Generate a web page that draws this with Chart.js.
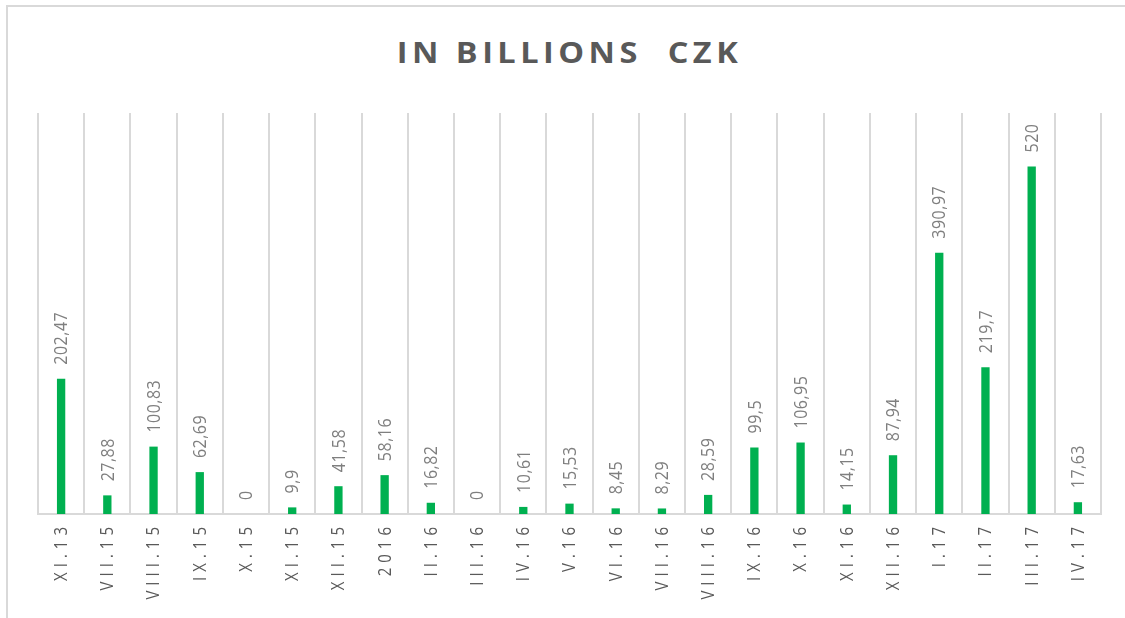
<!DOCTYPE html>
<html>
<head>
<meta charset="utf-8">
<script src="https://cdn.jsdelivr.net/npm/chart.js@4"></script>
<style>
  html, body { margin: 0; padding: 0; background: #fff; }
  #wrap { position: relative; width: 1125px; height: 618px; overflow: hidden; }
  #frame { position: absolute; left: 6px; top: 5px; right: 0; bottom: 0;
           border-left: 2px solid #d9d9d9; border-top: 2px solid #d9d9d9; }
  #title { position: absolute; left: 38px; width: 1063px; top: 32px; text-align: center;
           font: bold 29px "Open Sans", sans-serif; letter-spacing: 4px; color: #595959;
           transform: scaleX(1.12); transform-origin: 50% 50%; white-space: pre; }
  canvas { position: absolute; left: 0; top: 0; }
</style>
</head>
<body>
<div id="wrap">
  <div id="frame"></div>
  <div id="title">IN BILLIONS  CZK</div>
  <canvas id="czkChart" width="1125" height="618"></canvas>
</div>
<script>
const months = ['XI.13', 'VII.15', 'VIII.15', 'IX.15', 'X.15', 'XI.15', 'XII.15', '2016', 'II.16', 'III.16', 'IV.16', 'V.16',
    'VI.16', 'VII.16', 'VIII.16', 'IX.16', 'X.16', 'XI.16', 'XII.16', 'I.17', 'II.17', 'III.17', 'IV.17'];
const amounts = [202.47, 27.88, 100.83, 62.69, 0, 9.9, 41.58, 58.16, 16.82, 0, 10.61, 15.53,
    8.45, 8.29, 28.59, 99.5, 106.95, 14.15, 87.94, 390.97, 219.7, 520, 17.63];

// vertical text, a bit wider across than normal like the original export
function drawUpText(ctx, text, x, y, align) {
    ctx.save();
    ctx.translate(x, y);
    ctx.rotate(-Math.PI / 2);
    ctx.scale(1, 1.15);
    ctx.textAlign = align;
    ctx.textBaseline = 'middle';
    ctx.fillText(text, 0, 0);
    ctx.restore();
}

const valueLabels = {
    id: 'valueLabels',
    afterDatasetsDraw(chart) {
        const ctx = chart.ctx;
        const bars = chart.getDatasetMeta(0).data;
        ctx.save();
        ctx.letterSpacing = '0.5px';
        ctx.font = '16px "Open Sans", sans-serif';
        ctx.fillStyle = '#7f7f7f';
        bars.forEach((bar, i) => {
            drawUpText(ctx, String(amounts[i]).replace('.', ','), bar.x + 1, bar.y - 14, 'left');
        });
        ctx.restore();
    }
};

const monthLabels = {
    id: 'monthLabels',
    afterDraw(chart) {
        const ctx = chart.ctx;
        const xScale = chart.scales.x;
        const top = chart.chartArea.bottom + 13;
        ctx.save();
        ctx.letterSpacing = '5px';
        ctx.font = '15px "Open Sans", sans-serif';
        ctx.fillStyle = '#595959';
        months.forEach((m, i) => {
            // right aligned; the trailing letter space pushes it down, so start a bit higher
            drawUpText(ctx, m, xScale.getPixelForTick(i) + 1, top - 5, 'right');
        });
        ctx.restore();
    }
};

const ctx = document.getElementById('czkChart').getContext('2d');
const czkChart = new Chart(ctx, {
    type: 'bar',
    data: {
        labels: months,
        datasets: [{
            data: amounts,
            backgroundColor: '#00b050',
            barPercentage: 0.18,
            categoryPercentage: 1
        }]
    },
    options: {
        responsive: false,
        animation: false,
        layout: {
            padding: { left: 38, right: 24, top: 113, bottom: 104 }
        },
        plugins: {
            legend: { display: false },
            tooltip: { enabled: false }
        },
        scales: {
            y: {
                display: false,
                min: 0,
                max: 600
            },
            x: {
                grid: {
                    color: '#d9d9d9',
                    lineWidth: 2,
                    drawTicks: false
                },
                border: { color: '#d9d9d9', width: 2 },
                ticks: { display: false }
            }
        }
    },
    plugins: [valueLabels, monthLabels]
});
</script>
</body>
</html>
